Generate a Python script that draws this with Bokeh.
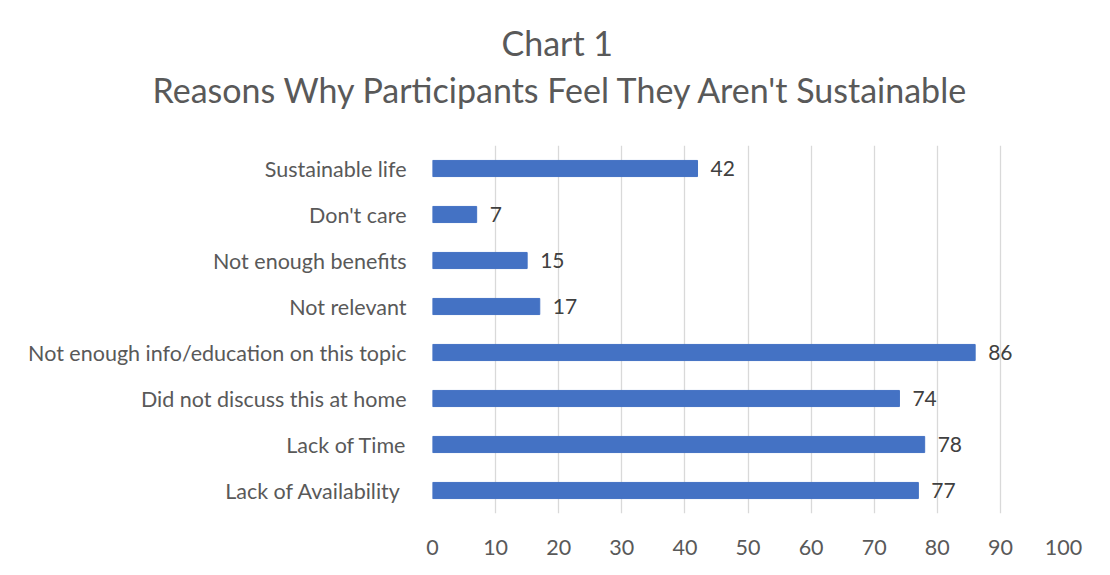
from bokeh.plotting import figure
from bokeh.models import ColumnDataSource, Title, LabelSet, FixedTicker
from bokeh.core.properties import value
from bokeh.embed import file_html
from bokeh.resources import INLINE

categories = ["Lack of Availability ", "Lack of Time", "Did not discuss this at home",
              "Not enough info/education on this topic", "Not relevant",
              "Not enough benefits", "Don't care", "Sustainable life"]
values = [77, 78, 74, 86, 17, 15, 7, 42]
x_ticks = [0, 10, 20, 30, 40, 50, 60, 70, 80, 90, 100]
title_lines = ["Chart 1", "Reasons Why Participants Feel They Aren't Sustainable"]

FONT = "Lato"
TXT = "#595959"

src = ColumnDataSource(dict(cat=categories, val=values, lab=[str(v) for v in values]))

p = figure(width=1094, height=559, y_range=categories, x_range=(0, 100),
           output_backend="svg", toolbar_location=None,
           min_border_left=432, min_border_right=31, min_border_bottom=46,
           min_border_top=145)

p.hbar(y="cat", right="val", height=0.35, source=src, color="#4472C4")

labels = LabelSet(x="val", y="cat", text="lab", source=src, x_offset=13,
                  text_baseline="middle", text_font=value(FONT), text_font_size="21px",
                  text_color="#404040")
p.add_layout(labels)

p.xaxis.ticker = FixedTicker(ticks=x_ticks)
for ax in (p.xaxis, p.yaxis):
    ax.axis_line_color = None
    ax.major_tick_line_color = None
    ax.minor_tick_line_color = None
    ax.major_label_text_font = FONT
    ax.major_label_text_font_size = "21.5px"
    ax.major_label_text_color = TXT
p.yaxis.major_label_standoff = 20
p.xaxis.major_label_standoff = 20

p.ygrid.grid_line_color = None
p.xgrid.grid_line_color = "#D9D9D9"
p.xgrid.grid_line_width = 1.3
p.outline_line_color = None

p.add_layout(Title(text=title_lines[1], align="left", offset=-280, text_font=FONT,
                   text_font_size="34px", text_font_style="normal", text_color=TXT,
                   standoff=72), "above")
p.add_layout(Title(text=title_lines[0], align="left", offset=69, text_font=FONT,
                   text_font_size="34px", text_font_style="normal", text_color=TXT,
                   standoff=-64), "above")

open("out.html", "w").write(file_html(p, INLINE))
